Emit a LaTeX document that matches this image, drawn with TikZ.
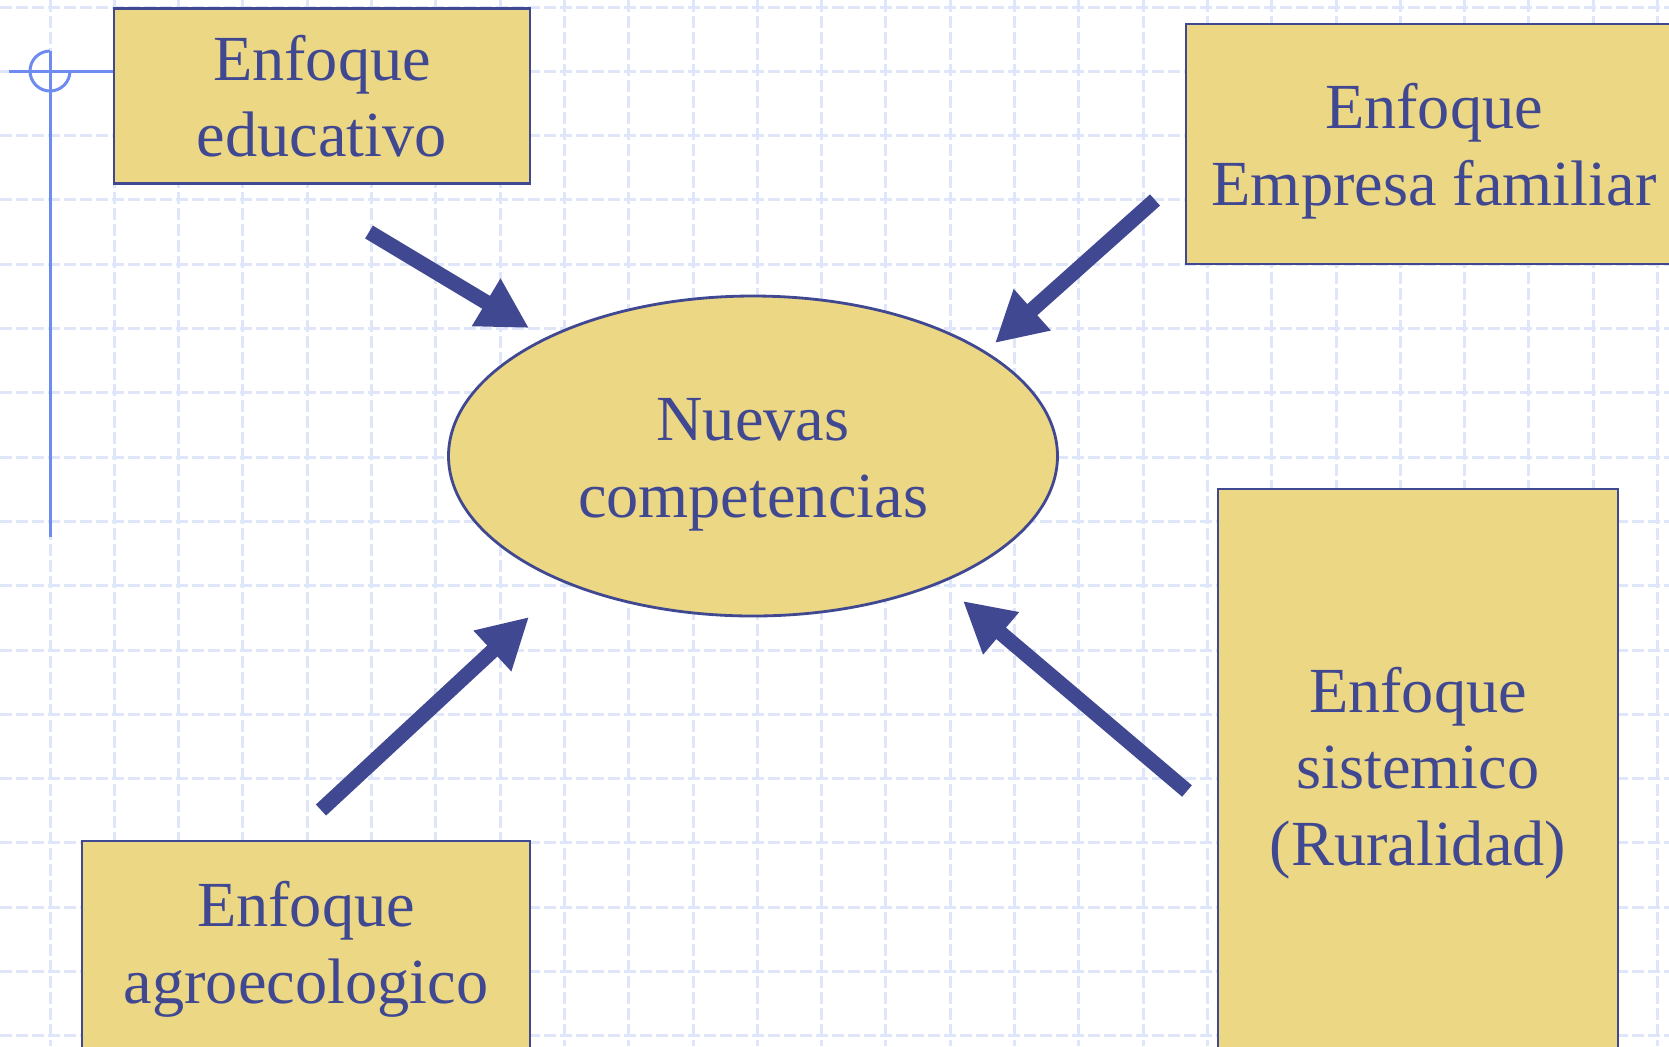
\documentclass[tikz,border=0pt]{standalone}
\usepackage{fontspec}
\setmainfont{Liberation Serif}
\usetikzlibrary{positioning,arrows.meta,shapes.geometric}
\definecolor{navytxt}{RGB}{64,72,146}
\definecolor{sand}{RGB}{235,215,132}
\definecolor{gridblue}{RGB}{224,230,250}
\definecolor{markblue}{RGB}{110,140,240}
\tikzset{
  enf/.style  ={draw=navytxt, fill=sand, line width=0.8pt, align=center, text=navytxt,
                font=\fontsize{18.3}{21.8}\selectfont, inner sep=0pt},
  core/.style ={enf, ellipse, minimum width=60.9mm, minimum height=32mm},
  bigar/.style={-{Triangle[length=5mm,width=5.2mm]}, draw=navytxt, line width=1.5mm},
  gline/.style={draw=gridblue, dash pattern=on 1.2mm off 0.4mm, line width=0.3mm},
  cornermk/.style={draw=markblue, line width=0.3mm},
}
\begin{document}
\begin{tikzpicture}[x=0.1mm,y=-0.1mm]
\clip (0,0) rectangle (1669,1046);
\fill[white] (0,0) rectangle (1669,1046);
% background grid
\foreach \k in {0,...,25} \draw[gline] ({50+64.3*\k},0) -- ({50+64.3*\k},1046);
\foreach \k in {0,...,16} \draw[gline] (0,{7+64.3*\k}) -- (1669,{7+64.3*\k});
% corner mark
\draw[cornermk] (9,71) -- (114,71);
\draw[cornermk] (50,51) -- (50,537);
\draw[cornermk] (50,51) arc[start angle=270, end angle=0, radius=20];
% boxes
\node[enf, minimum width=41.6mm, minimum height=17.5mm] (educ) at (322,96) {Enfoque\\educativo};
\node[enf, minimum width=49.6mm, minimum height=24mm, text height=38.8pt] (empr) at (1434,144) {Enfoque\\Empresa familiar};
\node[enf, minimum width=40mm,   minimum height=56.8mm] (sist) at (1418,773) {Enfoque\\sistemico\\(Ruralidad)};
\node[enf, minimum width=44.8mm, minimum height=21.6mm] (agro) at (306,949) {Enfoque\\agroecologico};
\node[core, text height=38.8pt] (nuevas) at (753,456) {Nuevas\\competencias};
% arrows into the centre
\coordinate (educ-t) at (369,232);  \coordinate (educ-h) at (529,328);
\coordinate (empr-t) at (1155,200); \coordinate (empr-h) at (995,343);
\coordinate (agro-t) at (321,810);  \coordinate (agro-h) at (529,617);
\coordinate (sist-t) at (1187,791); \coordinate (sist-h) at (963,601);
\draw[bigar] (educ-t) -- (educ-h);
\draw[bigar] (empr-t) -- (empr-h);
\draw[bigar] (agro-t) -- (agro-h);
\draw[bigar] (sist-t) -- (sist-h);
\end{tikzpicture}
\end{document}
